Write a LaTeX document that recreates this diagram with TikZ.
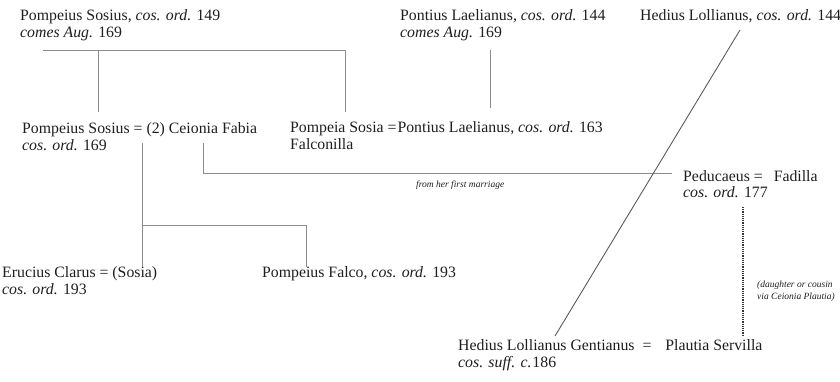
\documentclass[tikz,border=0pt]{standalone}
\usepackage{fontspec}
\setmainfont{Liberation Serif}
\definecolor{linegray}{HTML}{8C8C8C}
\definecolor{diaggray}{HTML}{5A5A5A}
\definecolor{ink}{HTML}{1E1E1E}
\begin{document}
\begin{tikzpicture}[x=1pt,y=-1pt,
  txt/.style={anchor=base west,inner sep=0pt,text=ink,font=\fontsize{15.8}{17}\selectfont},
  note/.style={anchor=base west,inner sep=0pt,text=ink,font=\fontsize{9.5}{12}\selectfont\itshape},
  link/.style={draw=linegray,line width=1pt},
  diag/.style={draw=diaggray,line width=0.9pt},
  dotlink/.style={draw=black!80,line width=1.6pt,dash pattern=on 1.2pt off 1pt}]
\useasboundingbox (0,0) rectangle (840,381);
% people
\node[txt] (a1) at (20,20) {Pompeius Sosius, \textit{cos. ord.} 149};
\node[txt] (a2) at (20,37) {\textit{comes Aug.} 169};
\node[txt] (b1) at (400,20) {Pontius Laelianus, \textit{cos. ord.} 144};
\node[txt] (b2) at (400,37) {\textit{comes Aug.} 169};
\node[txt] (c1) at (640,20) {Hedius Lollianus, \textit{cos. ord.} 144};
\node[txt] (d1) at (22,133) {Pompeius Sosius = (2) Ceionia Fabia};
\node[txt] (d2) at (22,150) {\textit{cos. ord.} 169};
\node[txt] (e1) at (290,132) {Pompeia Sosia =\kern1pt Pontius Laelianus, \textit{cos. ord.} 163};
\node[txt] (e2) at (290,149) {Falconilla};
\node[txt] (f1) at (683,181) {Peducaeus =\hspace{11pt}Fadilla};
\node[txt] (f2) at (683,197) {\textit{cos. ord.} 177};
\node[txt] (g1) at (2,277) {Erucius Clarus = (Sosia)};
\node[txt] (g2) at (2,294) {\textit{cos. ord.} 193};
\node[txt] (h1) at (262,277) {Pompeius Falco, \textit{cos. ord.} 193};
\node[txt] (i1) at (458,350) {Hedius Lollianus Gentianus \ =\hspace{14pt}Plautia Servilla};
\node[txt] (i2) at (458,367) {\textit{cos. suff. c.}\kern1pt186};
\node[note] (n1) at (416,187) {from her first marriage};
\node[note] (n2) at (757,287) {(daughter or cousin};
\node[note] (n3) at (757,299) {via Ceionia Plautia)};
% junctions
\coordinate (t0) at (43,50);
\coordinate (t1) at (98,50);
\coordinate (t2) at (345,50);
\coordinate (d1top) at (98,112);
\coordinate (e1top) at (345,112);
\coordinate (b2bot) at (490,50);
\coordinate (e1ptop) at (490,108);
\coordinate (k0) at (142,143);
\coordinate (k1) at (142,225);
\coordinate (k2) at (306,225);
\coordinate (g1top) at (142,267);
\coordinate (h1top) at (306,267);
\coordinate (m0) at (203,143);
\coordinate (m1) at (203,173);
\coordinate (f1left) at (672,173);
\coordinate (c1bot) at (740,30);
\coordinate (i1top) at (555,336);
\coordinate (f2bot) at (743,207);
\coordinate (i1rt) at (743,335);
% connectors
\draw[link] (t0) -- (t2) -- (e1top);
\draw[link] (t1) -- (d1top);
\draw[link] (b2bot) -- (e1ptop);
\draw[link] (k0) -- (g1top);
\draw[link] (k1) -- (k2) -- (h1top);
\draw[link] (m0) -- (m1) -- (f1left);
\draw[diag] (c1bot) -- (i1top);
\draw[dotlink] (f2bot) -- (i1rt);
\end{tikzpicture}
\end{document}
